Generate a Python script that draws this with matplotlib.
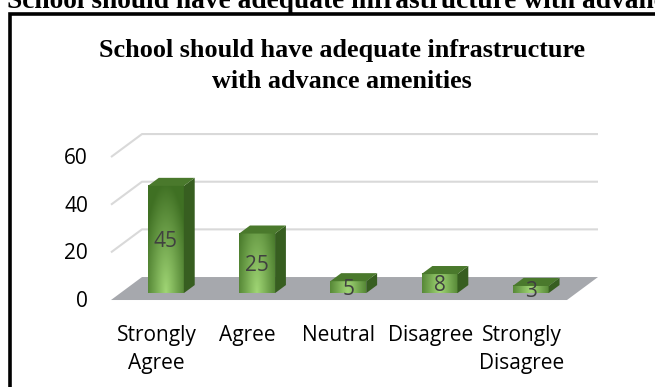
import numpy as np
import matplotlib.pyplot as plt
from matplotlib.patches import Polygon, Rectangle

categories = ["Strongly\nAgree", "Agree", "Neutral", "Disagree", "Strongly\nDisagree"]
values = [45, 25, 5, 8, 3]
yticks = [0, 20, 40, 60]
title_lines = ["School should have adequate infrastructure", "with advance amenities"]
heading = "School should have adequate infrastructure with advanced amenities"

W, H = 655, 387
fig = plt.figure(figsize=(W / 100, H / 100), dpi=100)
fig.set_facecolor('#FFFFFF')

# one axes over the whole figure, limits chosen so category i / value v land where the plot area sits
ax = fig.add_axes([0, 0, 1, 1])
ax.set_xlim(-1.717, 5.465)
ax.set_ylim(-36.5, 125.9)
ax.axis('off')

# depth of the floor and of each bar (fractions of the floor depth)
DX, DY = 0.34, 9.65
d_front, d_back = 0.30, 0.65
half = 0.197
n = len(categories)

# floor
floor = Polygon([(-0.5, 0), (n - 0.5, 0), (n - 0.5 + DX, DY), (-0.5 + DX, DY)],
                closed=True, fc='#a6a8ad', ec='none', zorder=1)
ax.add_patch(floor)

# side wall + back wall gridlines
for v in yticks[1:]:
    ax.plot([-0.5, -0.5 + DX, n - 0.5 + DX], [v, v + DY, v + DY],
            color='#d9d9d9', lw=1.5, zorder=0.5, solid_capstyle='butt')

# tick labels on the front edge
for v in yticks:
    ax.text(-0.752, v - 0.6, str(v), ha='right', va='center', fontsize=15,
            family='Open Sans', color='#000000')

light = np.array([0.63, 0.84, 0.46])
dark = np.array([0.25, 0.44, 0.14])

for i, v in enumerate(values):
    sx, sy = d_front * DX, d_front * DY
    x0, x1 = i - half + sx, i + half + sx
    yb, yt = sy, sy + v
    bx, by = (d_back - d_front) * DX, (d_back - d_front) * DY

    # front face with a soft gradient, lightest near the bottom centre
    u = np.linspace(0, 1, 40)[None, :]
    w = np.linspace(1, 0, 80)[:, None] * v / 48.0
    r = np.clip(np.sqrt(((2 * u - 1) * 0.75) ** 2 + (w * 1.05) ** 2), 0, 1)
    img = light[None, None, :] * (1 - r[..., None]) + dark[None, None, :] * r[..., None]
    ax.imshow(img, extent=[x0, x1, yb, yt], aspect='auto', zorder=3, interpolation='bilinear')

    side = Polygon([(x1, yb), (x1 + bx, yb + by), (x1 + bx, yt + by), (x1, yt)],
                   closed=True, fc='#375e20', ec='none', zorder=3)
    top = Polygon([(x0, yt), (x1, yt), (x1 + bx, yt + by), (x0 + bx, yt + by)],
                  closed=True, fc='#4a792c', ec='none', zorder=3)
    ax.add_patch(side)
    ax.add_patch(top)

    ax.text(i + sx, yb + v / 2 - 0.8, str(v), ha='center', va='center', fontsize=15,
            family='Open Sans', color='#404040', zorder=4)

# category labels
for i, c in enumerate(categories):
    ax.text(i, -10.3, c, ha='center', va='top', fontsize=15, family='Open Sans',
            linespacing=1.45, color='#000000')

ax.set_xlim(-1.717, 5.465)
ax.set_ylim(-36.5, 125.9)

# chart title
for k, line in enumerate(title_lines):
    fig.text(342 / W, 1 - (57 + 31 * k) / H, line, ha='center', va='baseline',
             fontsize=18.8, fontweight='bold', family='Liberation Serif')

# heading of the surrounding page, cut off at the top
fig.text(7 / W, 1 - 7.5 / H, heading, ha='left', va='baseline', fontsize=19.7,
         fontweight='bold', family='Liberation Serif')

# frame around the chart
fig.add_artist(Rectangle((10 / W, -0.1), 2, 1.1 - 13.5 / H, transform=fig.transFigure,
                         fill=False, ec='black', lw=2.6))

fig.savefig('out.png', dpi=100)
